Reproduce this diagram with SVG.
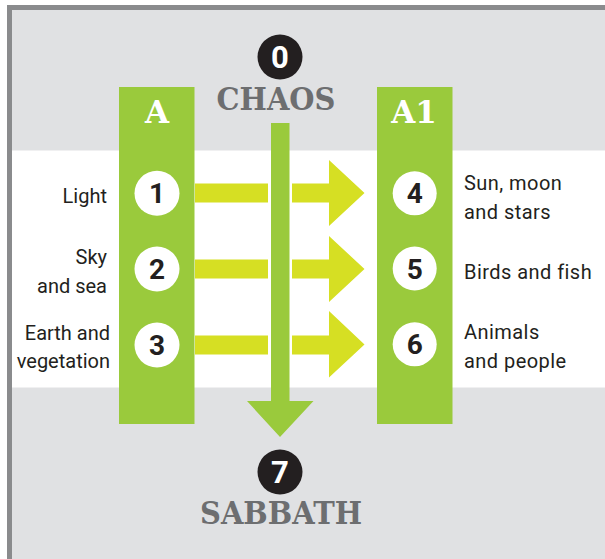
<svg xmlns="http://www.w3.org/2000/svg" width="605" height="559" viewBox="0 0 605 559">
<style>
.col{fill:#9aca3c}
.arr{fill:#d6df23}
.wc{fill:#ffffff}
.bc{fill:#231f20}
.num{font-family:Roboto,"Liberation Sans",sans-serif;font-weight:bold;font-size:28px;fill:#231f20;text-anchor:middle}
.wnum{font-family:Roboto,"Liberation Sans",sans-serif;font-weight:bold;font-size:31px;fill:#ffffff;text-anchor:middle}
.lbl{font-family:Roboto,"Liberation Sans",sans-serif;font-size:20px;fill:#231f20}
.sp{letter-spacing:0.45px}
.end{text-anchor:end}
.slab{font-family:"DejaVu Serif",serif;font-weight:bold;font-size:31px;fill:#6d6e70;text-anchor:middle}
.head{font-family:"DejaVu Serif",serif;font-weight:bold;font-size:31px;fill:#ffffff;text-anchor:middle}
</style>
<rect x="0" y="0" width="605" height="559" fill="#ffffff"/>
<rect x="7" y="5" width="598" height="554" fill="#8a8b8d"/>
<rect x="12" y="10" width="593" height="549" fill="#e0e1e3"/>
<rect x="12" y="150.5" width="593" height="237" fill="#ffffff"/>

<g id="connectors">
  <path class="arr" d="M195,183.5 H268 V202.5 H195 Z M292,183.5 H329 V160 L364.5,193 L329,226 V202.5 H292 Z"/>
  <path class="arr" d="M195,259.5 H268 V278.5 H195 Z M292,259.5 H329 V236 L364.5,269 L329,302 V278.5 H292 Z"/>
  <path class="arr" d="M195,335.5 H268 V354.5 H195 Z M292,335.5 H329 V311 L364.5,344.5 L329,377.5 V354.5 H292 Z"/>
  <path class="col" d="M271,123 H289.5 V401 H313.5 L280,437 L247,401 H271 Z"/>
</g>

<g id="colA">
  <rect class="col" x="119" y="87" width="75.5" height="337"/>
  <text class="head" x="157" y="123">A</text>
</g>
<g id="colA1">
  <rect class="col" x="377" y="87" width="75.5" height="337"/>
  <text class="head" x="414" y="123">A1</text>
</g>

<g id="n0">
  <circle class="bc" cx="280" cy="57" r="22.5"/>
  <text class="wnum" x="280" y="68">0</text>
  <text class="slab" x="276" y="109.5" textLength="119" lengthAdjust="spacingAndGlyphs">CHAOS</text>
</g>
<g id="n7">
  <circle class="bc" cx="280" cy="472" r="22.5"/>
  <text class="wnum" x="280" y="483">7</text>
  <text class="slab" x="281" y="523.5" textLength="162" lengthAdjust="spacingAndGlyphs">SABBATH</text>
</g>

<g id="n1">
  <circle class="wc" cx="157" cy="193.3" r="22.5"/>
  <text class="num" x="157" y="203.3">1</text>
  <text class="lbl end" x="107" y="203.3">Light</text>
</g>
<g id="n2">
  <circle class="wc" cx="157" cy="269" r="22.5"/>
  <text class="num" x="157" y="279">2</text>
  <text class="lbl end" x="107" y="264.3">Sky</text>
  <text class="lbl end" x="107" y="292.7">and sea</text>
</g>
<g id="n3">
  <circle class="wc" cx="157" cy="345" r="22.5"/>
  <text class="num" x="157" y="355">3</text>
  <text class="lbl end" x="110" y="340">Earth and</text>
  <text class="lbl end" x="110" y="368.3">vegetation</text>
</g>
<g id="n4">
  <circle class="wc" cx="414.7" cy="193.3" r="22"/>
  <text class="num" x="414.7" y="203.3">4</text>
  <text class="lbl sp" x="464" y="189.5">Sun, moon</text>
  <text class="lbl sp" x="464" y="218.5">and stars</text>
</g>
<g id="n5">
  <circle class="wc" cx="414.7" cy="268.5" r="22"/>
  <text class="num" x="414.7" y="278.5">5</text>
  <text class="lbl sp" x="464" y="279">Birds and fish</text>
</g>
<g id="n6">
  <circle class="wc" cx="414.7" cy="344.3" r="22"/>
  <text class="num" x="414.7" y="354.3">6</text>
  <text class="lbl sp" x="464" y="339.3">Animals</text>
  <text class="lbl sp" x="464" y="368.3">and people</text>
</g>
</svg>
